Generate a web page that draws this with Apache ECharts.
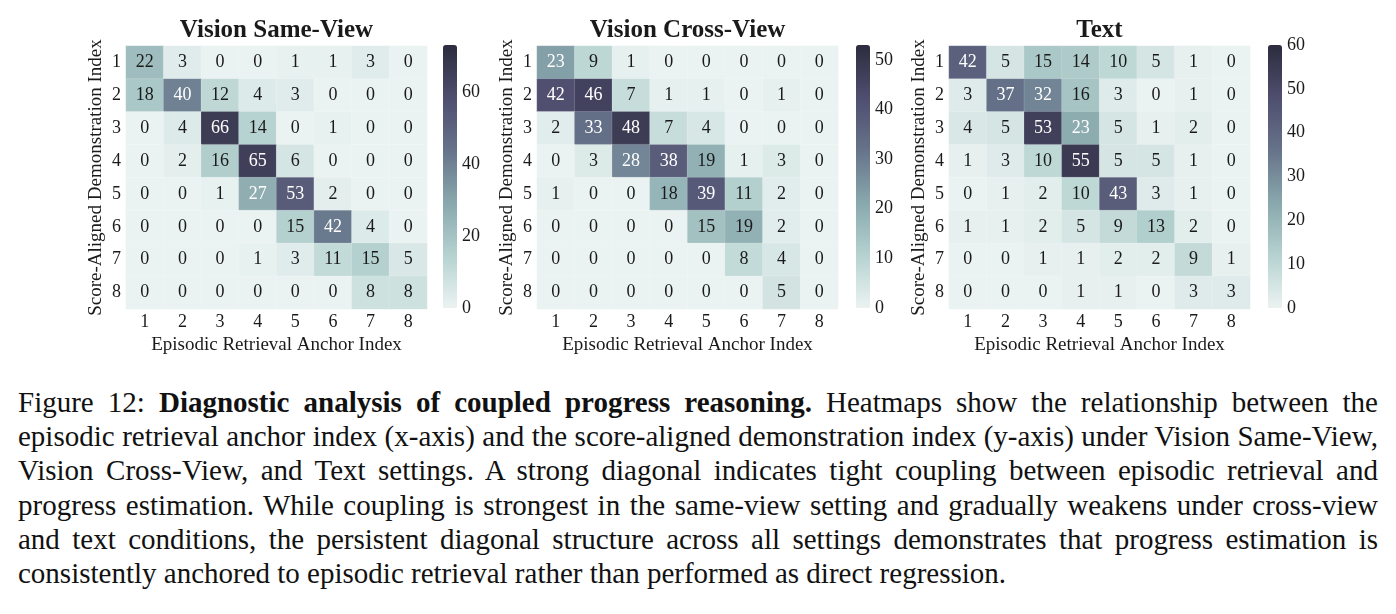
<!DOCTYPE html>
<html>
<head>
<meta charset="utf-8">
<script src="https://cdn.jsdelivr.net/npm/echarts@6/dist/echarts.min.js"></script>
<style>
body{margin:0;background:#fff;}
#main{position:absolute;left:0;top:0;width:1396px;height:372px;}
#caption{position:absolute;left:18px;top:385px;width:1360px;font-family:"Liberation Serif","Times New Roman",serif;font-size:29px;line-height:34.2px;color:#111;}
#caption div{text-align:justify;text-align-last:justify;white-space:nowrap;}
#caption div.last{text-align-last:left;}
</style>
</head>
<body>
<div id="main"></div>
<div id="caption">
<div>Figure 12: <b>Diagnostic analysis of coupled progress reasoning.</b> Heatmaps show the relationship between the</div>
<div>episodic retrieval anchor index (x-axis) and the score-aligned demonstration index (y-axis) under Vision Same-View,</div>
<div>Vision Cross-View, and Text settings. A strong diagonal indicates tight coupling between episodic retrieval and</div>
<div>progress estimation. While coupling is strongest in the same-view setting and gradually weakens under cross-view</div>
<div>and text conditions, the persistent diagonal structure across all settings demonstrates that progress estimation is</div>
<div class="last">consistently anchored to episodic retrieval rather than performed as direct regression.</div>
</div>
<script>
var indexLabels = ['1','2','3','4','5','6','7','8'];
var panelTitles = ['Vision Same-View','Vision Cross-View','Text'];

var sameView = [
	[22,3,0,0,1,1,3,0],
	[18,40,12,4,3,0,0,0],
	[0,4,66,14,0,1,0,0],
	[0,2,16,65,6,0,0,0],
	[0,0,1,27,53,2,0,0],
	[0,0,0,0,15,42,4,0],
	[0,0,0,1,3,11,15,5],
	[0,0,0,0,0,0,8,8]
];
var crossView = [
	[23,9,1,0,0,0,0,0],
	[42,46,7,1,1,0,1,0],
	[2,33,48,7,4,0,0,0],
	[0,3,28,38,19,1,3,0],
	[1,0,0,18,39,11,2,0],
	[0,0,0,0,15,19,2,0],
	[0,0,0,0,0,8,4,0],
	[0,0,0,0,0,0,5,0]
];
var textView = [
	[42,5,15,14,10,5,1,0],
	[3,37,32,16,3,0,1,0],
	[4,5,53,23,5,1,2,0],
	[1,3,10,55,5,5,1,0],
	[0,1,2,10,43,3,1,0],
	[1,1,2,5,9,13,2,0],
	[0,0,1,1,2,2,9,1],
	[0,0,0,1,1,0,3,3]
];
var colorMax = [73, 53, 60];
var colorStep = [20, 10, 10];

var matrices = [sameView, crossView, textView];
var gridLeft = [126, 537, 949];
var barLeft = [443, 856, 1268];
var cmap = ['#ebf3f2','#b5d2d0','#89a8ad','#66738a','#4f4e6f','#2c2c3e'];
var font = '"Liberation Serif","Times New Roman",serif';
var txt = '#1a1a1a';

var grids = [], xAxes = [], yAxes = [], series = [], visualMaps = [], graphics = [];

var $each = function(arr, fn){ for (var i = 0; i < arr.length; i++) fn(arr[i], i); };

$each(matrices, function(mat, k){
	grids.push({left: gridLeft[k], top: 46, width: 301, height: 263});
	xAxes.push({
		type: 'category', gridIndex: k, data: indexLabels, position: 'bottom',
		axisLine: {show: false}, axisTick: {show: false}, splitLine: {show: false},
		axisLabel: {color: txt, fontFamily: font, fontSize: 18, margin: 4},
		name: 'Episodic Retrieval Anchor Index', nameLocation: 'middle', nameGap: 20,
		nameTextStyle: {color: txt, fontFamily: font, fontSize: 19}
	});
	yAxes.push({
		type: 'category', gridIndex: k, data: indexLabels, inverse: true,
		axisLine: {show: false}, axisTick: {show: false}, splitLine: {show: false},
		axisLabel: {color: txt, fontFamily: font, fontSize: 18, margin: 5},
		name: 'Score-Aligned Demonstration Index', nameLocation: 'middle', nameGap: 20,
		nameTextStyle: {color: txt, fontFamily: font, fontSize: 19}
	});
	var data = [];
	$each(mat, function(row, r){
		$each(row, function(v, c){
			data.push({value: [c, r, v], label: {color: v / colorMax[k] > 0.365 ? '#ffffff' : txt}});
		});
	});
	series.push({
		type: 'heatmap', xAxisIndex: k, yAxisIndex: k, data: data,
		itemStyle: {borderColor: 'rgba(255,255,255,0.3)', borderWidth: 0.5},
		label: {show: true, fontFamily: font, fontSize: 18, formatter: function(p){ return p.value[2]; }},
		emphasis: {disabled: true}
	});
	visualMaps.push({
		type: 'continuous', seriesIndex: k, dimension: 2, min: 0, max: colorMax[k],
		calculable: false, orient: 'vertical', left: barLeft[k], top: 45,
		itemWidth: 14, itemHeight: 263, padding: 0, text: null, hoverLink: false,
		inRange: {color: cmap}
	});
	graphics.push({
		type: 'text', x: gridLeft[k] + 150.5, y: 31,
		style: {text: panelTitles[k], fill: txt, font: 'bold 25px ' + font, align: 'center', verticalAlign: 'middle'}
	});
});

// colorbar tick axes
$each(matrices, function(mat, k){
	var gi = grids.length;
	grids.push({left: barLeft[k], top: 45, width: 14, height: 263});
	xAxes.push({type: 'category', gridIndex: gi, show: false, data: ['a']});
	yAxes.push({
		type: 'value', gridIndex: gi, position: 'right', min: 0, max: colorMax[k], interval: colorStep[k],
		axisLine: {show: false}, axisTick: {show: false}, splitLine: {show: false},
		axisLabel: {color: txt, fontFamily: font, fontSize: 18, margin: 5, showMaxLabel: colorMax[k] % colorStep[k] === 0}
	});
});

var myChart = echarts.init(document.getElementById('main'), null, {renderer: 'canvas'});
myChart.setOption({
	animation: false,
	backgroundColor: '#ffffff',
	grid: grids,
	xAxis: xAxes,
	yAxis: yAxes,
	visualMap: visualMaps,
	series: series,
	graphic: graphics
});
</script>
</body>
</html>
